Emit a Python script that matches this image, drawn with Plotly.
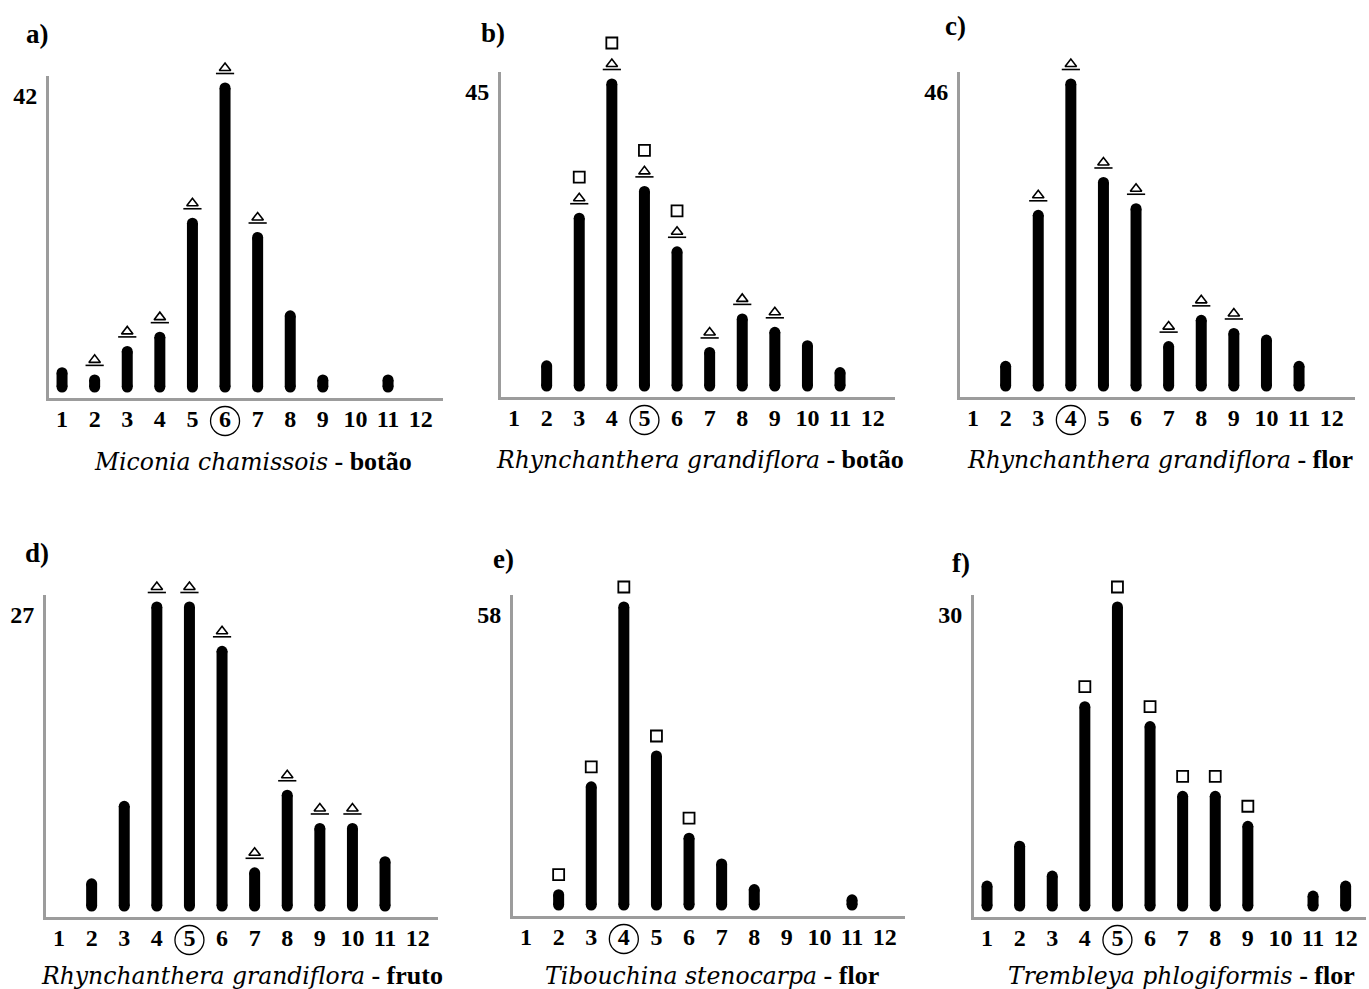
import plotly.graph_objects as go

# ---------------- data ----------------
categories = list(range(1, 13))
tick_labels = [str(c) for c in categories]

counts_a = [2, 1, 5, 7, 23, 42, 21, 10, 1, 0, 1, 0]
counts_b = [0, 3, 25, 45, 29, 20, 5, 10, 8, 6, 2, 0]
counts_c = [0, 3, 26, 46, 31, 27, 6, 10, 8, 7, 3, 0]
counts_d = [0, 2, 9, 27, 27, 23, 3, 10, 7, 7, 4, 0]
counts_e = [0, 2, 23, 58, 29, 13, 8, 3, 0, 0, 1, 0]
counts_f = [2, 6, 3, 20, 30, 18, 11, 11, 8, 0, 1, 2]

triangles_a = [2, 3, 4, 5, 6, 7]
triangles_b = [3, 4, 5, 6, 7, 8, 9]
triangles_c = [3, 4, 5, 6, 7, 8, 9]
triangles_d = [4, 5, 6, 7, 8, 9, 10]
triangles_e = []
triangles_f = []

squares_a = []
squares_b = [3, 4, 5, 6]
squares_c = []
squares_d = []
squares_e = [2, 3, 4, 5, 6]
squares_f = [4, 5, 6, 7, 8, 9]

circled = [6, 5, 4, 5, 4, 5]
ymax_labels = [42, 45, 46, 27, 58, 30]
panel_letters = ["a)", "b)", "c)", "d)", "e)", "f)"]
species = ["Miconia chamissois", "Rhynchanthera grandiflora", "Rhynchanthera grandiflora",
           "Rhynchanthera grandiflora", "Tibouchina stenocarpa", "Trembleya phlogiformis"]
organ = ["botão", "botão", "flor", "fruto", "flor", "flor"]

counts = [counts_a, counts_b, counts_c, counts_d, counts_e, counts_f]
triangles = [triangles_a, triangles_b, triangles_c, triangles_d, triangles_e, triangles_f]
squares = [squares_a, squares_b, squares_c, squares_d, squares_e, squares_f]

# ---------------- layout geometry (page pixels) ----------------
W, H = 1369, 989
boxes = [  # left, right, top, bottom
    (49, 443, 76, 398),
    (501, 895, 72, 397),
    (960, 1355, 72, 397),
    (46, 438, 595, 917),
    (513, 905, 595, 916),
    (974, 1366, 595, 917),
]
letter_pos = [(37, 34), (493, 33), (955, 26), (37, 553), (503, 559), (961, 563)]
title_pos = [(253, 461), (700, 460), (1160, 460), (242, 975), (712, 975), (1181, 975)]
SPACING = 32.6
PAD_TOP, PAD_BOT = 60, 50   # extra room of the (hidden) marker axes


def px(x):
    return x / W


def py(y):
    return 1 - y / H


fig = go.Figure()
serif = "Liberation Serif"
axis_col = "#9c9c9c"
annotations = []

for i in range(6):
    n = i + 1
    xa = "x" if n == 1 else f"x{n}"
    ya = "y" if n == 1 else f"y{n}"
    ym = f"y{n + 6}"
    l, r, t, b = boxes[i]
    vals = counts[i]
    vmax = ymax_labels[i]
    ppu = (b - t - 23) / vmax
    ylo, yhi = -11 / ppu, vmax + 12 / ppu

    # bars as thick lines with round end caps
    bx, by = [], []
    for c, v in zip(categories, vals):
        if v > 0:
            bx += [c, c, None]
            by += [0, v, None]
    fig.add_trace(go.Scatter(x=bx, y=by, mode="lines+markers", xaxis=xa, yaxis=ya,
                             line=dict(color="black", width=11),
                             marker=dict(color="black", size=11, line=dict(width=0)),
                             showlegend=False, hoverinfo="skip"))

    # triangles
    if triangles[i]:
        tx = triangles[i]
        tv = [vals[c - 1] for c in tx]
        fig.add_trace(go.Scatter(x=tx, y=[v + 20 / ppu for v in tv], mode="markers",
                                 xaxis=xa, yaxis=ym,
                                 marker=dict(symbol="triangle-up-open", size=10, color="black",
                                             line=dict(color="black", width=1.6)),
                                 showlegend=False, hoverinfo="skip"))
        fig.add_trace(go.Scatter(x=tx, y=[v + 14.5 / ppu for v in tv], mode="markers",
                                 xaxis=xa, yaxis=ym,
                                 marker=dict(symbol="line-ew-open", size=13, color="black",
                                             line=dict(color="black", width=1.6)),
                                 showlegend=False, hoverinfo="skip"))
    # squares
    if squares[i]:
        sx = squares[i]
        sy = [vals[c - 1] + (41 if c in triangles[i] else 20) / ppu for c in sx]
        fig.add_trace(go.Scatter(x=sx, y=sy, mode="markers", xaxis=xa, yaxis=ym,
                                 marker=dict(symbol="square-open", size=11, color="black",
                                             line=dict(color="black", width=1.8)),
                                 showlegend=False, hoverinfo="skip"))
    # circle around the modal class label
    fig.add_trace(go.Scatter(x=[circled[i]], y=[ylo - 23 / ppu], mode="markers",
                             xaxis=xa, yaxis=ym,
                             marker=dict(symbol="circle-open", size=29, color="black",
                                         line=dict(color="black", width=1.3)),
                             showlegend=False, hoverinfo="skip"))

    xkey = "xaxis" if n == 1 else f"xaxis{n}"
    ykey = "yaxis" if n == 1 else f"yaxis{n}"
    fig.layout[xkey] = dict(
        domain=[px(l), px(r)], anchor=ya,
        range=[0.6, 0.6 + (r - l) / SPACING],
        tickmode="array", tickvals=categories, ticktext=tick_labels,
        showline=True, linecolor=axis_col, linewidth=3, ticks="",
        showgrid=False, zeroline=False, fixedrange=True,
        tickfont=dict(family=serif, size=24, color="black", weight="bold"),
        ticklabelstandoff=-3,
    )
    fig.layout[ykey] = dict(
        domain=[py(b), py(t)], anchor=xa,
        range=[ylo, yhi],
        tickmode="array", tickvals=[vmax], ticktext=[str(ymax_labels[i])],
        showline=True, linecolor=axis_col, linewidth=3, ticks="",
        showgrid=False, zeroline=False, fixedrange=True,
        tickfont=dict(family=serif, size=24, color="black", weight="bold"),
        ticklabelshift=8, ticklabelstandoff=4,
    )
    # hidden axis with identical scale but more room, for the symbols
    fig.layout[f"yaxis{n + 6}"] = dict(
        domain=[py(b + PAD_BOT), py(t - PAD_TOP)], anchor=xa,
        range=[ylo - PAD_BOT / ppu, yhi + PAD_TOP / ppu],
        visible=False, fixedrange=True,
    )

    lx, lyy = letter_pos[i]
    annotations.append(dict(x=px(lx), y=py(lyy), xref="paper", yref="paper",
                            text=f"<b>{panel_letters[i]}</b>", showarrow=False,
                            xanchor="center", yanchor="middle",
                            font=dict(family=serif, size=27, color="black")))
    tx_, ty_ = title_pos[i]
    annotations.append(dict(x=px(tx_), y=py(ty_), xref="paper", yref="paper",
                            text=(f"<span style=\"font-family:'DejaVu Serif';font-size:23.5px\">"
                                  f"<i>{species[i]}</i></span>"
                                  f"<b> - {organ[i]}</b>"),
                            showarrow=False, xanchor="center", yanchor="middle",
                            font=dict(family=serif, size=26, color="black")))

fig.update_layout(width=W, height=H, margin=dict(l=0, r=0, t=0, b=0),
                  paper_bgcolor="white", plot_bgcolor="rgba(0,0,0,0)",
                  annotations=annotations, showlegend=False)

fig.write_html("out.html", config={"displayModeBar": False, "staticPlot": True},
               post_script="document.body.style.margin='0px';"
                           "document.documentElement.style.overflow='hidden';")
